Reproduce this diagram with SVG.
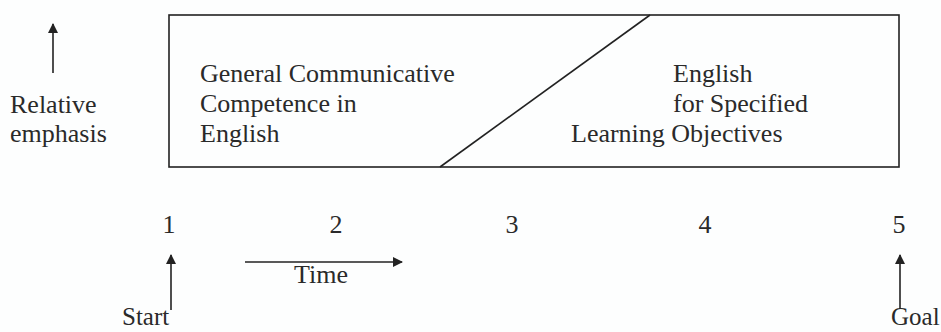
<svg xmlns="http://www.w3.org/2000/svg" width="941" height="332" viewBox="0 0 941 332">
<defs>
<style>
text{font-family:"Liberation Serif","Times New Roman",serif;fill:#2a2a2a;font-size:26px}
.num{font-size:26px}
.edge{font-size:25px}
.ln{stroke:#222;fill:none;stroke-width:1.6}
</style>
<marker id="ah" viewBox="0 0 10 10" refX="9" refY="5" markerWidth="10" markerHeight="10" markerUnits="userSpaceOnUse" orient="auto"><path d="M0,0L10,5L0,10z" fill="#222"/></marker>
</defs>
<rect width="941" height="332" fill="#fdfefe"/>
<g id="box">
<rect x="169" y="15" width="730" height="152" class="ln" stroke-width="2"/>
<line x1="440" y1="167" x2="650" y2="15" class="ln" stroke-width="2.6"/>
</g>
<g id="general">
<text x="200" y="82">General Communicative</text>
<text x="200" y="112">Competence in</text>
<text x="200" y="142">English</text>
</g>
<g id="specific">
<text x="673" y="82">English</text>
<text x="673" y="112">for Specified</text>
<text x="571" y="142">Learning Objectives</text>
</g>
<g id="yaxis">
<text x="10" y="113">Relative</text>
<text x="10" y="142">emphasis</text>
</g>
<g id="ticks">
<text class="num" x="169" y="233" text-anchor="middle">1</text>
<text class="num" x="336" y="233" text-anchor="middle">2</text>
<text class="num" x="512" y="233" text-anchor="middle">3</text>
<text class="num" x="705" y="233" text-anchor="middle">4</text>
<text class="num" x="899" y="233" text-anchor="middle">5</text>
</g>
<g id="start"><text class="edge" x="122" y="325">Start</text></g>
<g id="goal"><text class="edge" x="891" y="325">Goal</text></g>
<g id="time"><text x="294" y="283">Time</text></g>
<g id="connectors">
<line x1="53" y1="73" x2="53" y2="24" class="ln" marker-end="url(#ah)"/>
<line x1="171" y1="310" x2="171" y2="255" class="ln" marker-end="url(#ah)"/>
<line x1="900" y1="309" x2="900" y2="255" class="ln" marker-end="url(#ah)"/>
<line x1="245" y1="262" x2="402" y2="262" class="ln" marker-end="url(#ah)"/>
</g>
</svg>
